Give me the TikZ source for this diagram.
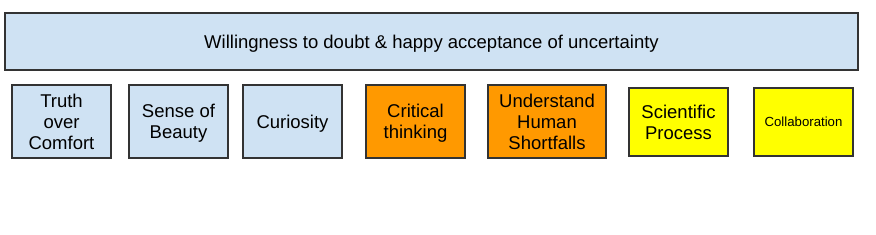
\documentclass[tikz,border=0pt]{standalone}
\usepackage{fontspec}
\setmainfont{Liberation Sans}
\definecolor{lblue}{HTML}{CFE2F3}
\definecolor{orng}{HTML}{FF9900}
\definecolor{yllw}{HTML}{FFFF00}
\definecolor{edge}{HTML}{333333}
\begin{document}
\begin{tikzpicture}[x=1pt,y=-1pt,
  box/.style={draw=edge,line width=1.5pt,inner sep=0pt,align=center,text depth=0pt,
    font=\fontsize{18.5}{21}\selectfont},
  bluebox/.style={box,fill=lblue},
  orangebox/.style={box,fill=orng},
  yellowbox/.style={box,fill=yllw}]
\useasboundingbox (0,0) rectangle (876,234);
\node[bluebox,minimum width=853pt,minimum height=57pt] (top) at (431.5,41.5)
  {Willingness to doubt \& happy acceptance of uncertainty};
\node[bluebox,minimum width=99pt,minimum height=73pt] (truth) at (61.5,121.5) {Truth\\over\\Comfort};
\node[bluebox,minimum width=99pt,minimum height=73pt] (beauty) at (178.5,121.5) {Sense of\\Beauty};
\node[bluebox,minimum width=99pt,minimum height=73pt] (curio) at (292.5,121.5) {Curiosity};
\node[orangebox,minimum width=99pt,minimum height=73pt] (crit) at (415.5,121.5) {Critical\\thinking};
\node[orangebox,minimum width=118pt,minimum height=73pt] (human) at (547,121.5) {Understand\\Human\\Shortfalls};
\node[yellowbox,minimum width=99pt,minimum height=68pt] (sci) at (678.5,122) {Scientific\\Process};
\node[yellowbox,minimum width=99pt,minimum height=68pt,font=\fontsize{13.2}{15}\selectfont] (collab) at (803.5,122) {Collaboration};
\end{tikzpicture}
\end{document}
